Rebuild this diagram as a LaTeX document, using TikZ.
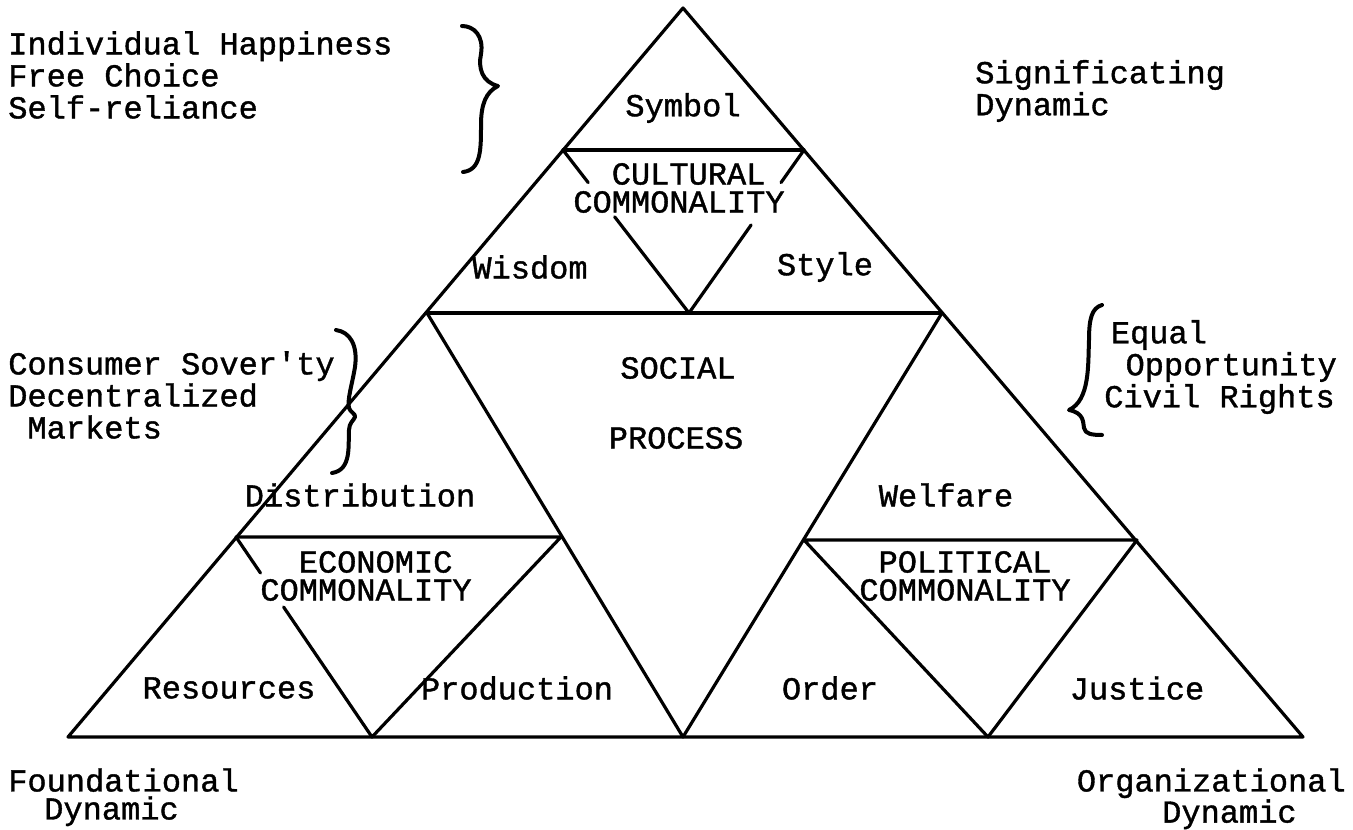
\documentclass[tikz,border=0pt]{standalone}
\usepackage{fontspec}
\setmainfont{Liberation Mono}[FakeBold=1.2]
\usetikzlibrary{calc}

\begin{document}
\begin{tikzpicture}[x=0.75pt,y=-0.75pt,
  edge/.style={line width=2.4pt, line cap=round, line join=round},
  brace/.style={line width=3pt, line cap=round, line join=round},
  lbl/.style={inner sep=0pt, font=\fontsize{24}{24}\selectfont},
  note/.style={lbl, align=left},
  pair/.style={inner sep=0pt, align=center, font=\fontsize{24}{21}\selectfont}]
\useasboundingbox (0,0) rectangle (1353,830);

% outer triangle and the central (social) triangle
\coordinate (apex) at (683,8);
\coordinate (bl) at (68,737);
\coordinate (br) at (1303,737);
\coordinate (ml) at (427,313);
\coordinate (mr) at (942,313);
\coordinate (bm) at (683,737);
% cultural sub-triangle
\coordinate (tl) at (563,150);
\coordinate (tr) at (804,150);
\coordinate (tv) at (689,313);
% economic sub-triangle
\coordinate (el) at (236,537);
\coordinate (er) at (561,537);
\coordinate (ev) at (372,737);
% political sub-triangle
\coordinate (pl) at (804,540);
\coordinate (pr) at (1137,540);
\coordinate (pv) at (988,737);

\draw[edge] (apex) -- (bl) -- (br) -- cycle;
\draw[edge] (ml) -- (mr);
\draw[edge] (ml) -- (bm) -- (mr);

\draw[edge] (tl) -- (tr);
\draw[edge] (tl) -- ($(tl)!0.2!(tv)$);
\draw[edge] ($(tl)!0.41!(tv)$) -- (tv) -- ($(tr)!0.46!(tv)$);
\draw[edge] (tr) -- ($(tr)!0.2!(tv)$);

\draw[edge] (el) -- (er) -- (ev) -- ($(el)!0.35!(ev)$);
\draw[edge] (el) -- ($(el)!0.18!(ev)$);

\draw[edge] (pl) -- (pr) -- (pv) -- cycle;

% labels inside the triangles
\node[lbl] (symbol) at (683,108) {Symbol};
\node[pair] (cult) at (679,188) {\phantom{M}CULTURAL\\COMMONALITY};
\node[lbl] (wisdom) at (530,267) {Wisdom};
\node[lbl] (style) at (825,267) {Style};
\node[lbl] (social) at (678,368) {SOCIAL};
\node[lbl] (process) at (676,438) {PROCESS};
\node[lbl] (distrib) at (360,495) {Distribution};
\node[pair] (eco) at (366,576) {\phantom{M}ECONOMIC\\COMMONALITY};
\node[lbl] (resources) at (229,688) {Resources};
\node[lbl] (production) at (517,688) {Production};
\node[lbl] (welfare) at (946,495) {Welfare};
\node[pair] (pol) at (965,576) {POLITICAL\\COMMONALITY};
\node[lbl] (order) at (830,688) {Order};
\node[lbl] (justice) at (1137,688) {Justice};

% side notes
\node[note, anchor=west] (values) at (8,75)
  {Individual Happiness\\Free Choice\\Self-reliance};
\node[note, anchor=west] (signif) at (975,91) {Significating\\Dynamic};
\node[note, anchor=west] (market) at (8,395)
  {Consumer Sover\textquotesingle ty\\Decentralized\\\phantom{x}Markets};
\node[note, anchor=west] (rights) at (1104,367)
  {\hspace*{5pt}Equal\\\hspace*{16pt}Opportunity\\Civil Rights};
\node[pair, align=left, anchor=north west] (found) at (8,768)
  {Foundational\\\hspace*{27pt}Dynamic};
\node[pair, align=left, anchor=north east] (organ) at (1346,768)
  {Organizational\\\hspace*{64pt}Dynamic};

% hand-drawn braces
\draw[brace] (462,26) .. controls (474,26) and (484,36) .. (481,54)
  .. controls (478,68) and (482,82) .. (498,86)
  .. controls (486,92) and (481,104) .. (481,125)
  .. controls (481,150) and (481,170) .. (463,172);
\draw[brace] (336,330) .. controls (350,332) and (358,345) .. (355,367)
  .. controls (352,385) and (347,400) .. (349,408)
  .. controls (350,412) and (356,414) .. (355,417)
  .. controls (354,420) and (349,423) .. (349,430)
  .. controls (348,445) and (352,470) .. (332,473);
\draw[brace] (1102,305) .. controls (1092,308) and (1089,318) .. (1089,340)
  .. controls (1088,365) and (1090,400) .. (1069,410)
  .. controls (1084,413) and (1083,422) .. (1084,428)
  .. controls (1085,434) and (1092,435) .. (1102,435);
\end{tikzpicture}
\end{document}
